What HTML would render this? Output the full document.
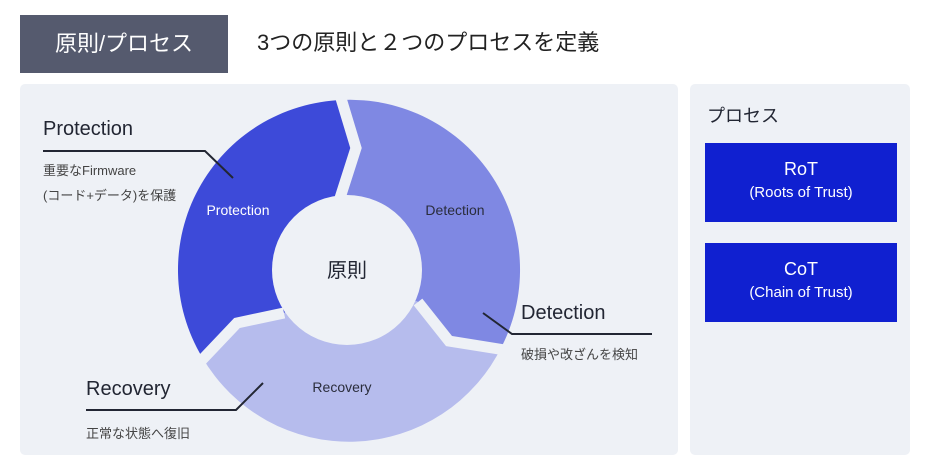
<!DOCTYPE html>
<html><head><meta charset="utf-8"><style>
body{margin:0;width:931px;height:469px;background:#fff;position:relative;overflow:hidden;font-family:"Liberation Sans","Noto Sans CJK JP",sans-serif;}
.a{position:absolute;white-space:nowrap;}
</style></head><body>
<div class="a" style="left:20px;top:15px;width:208px;height:58px;background:#555a6e;color:#fff;font-size:22px;line-height:58px;text-align:center;">原則/プロセス</div>
<div class="a" style="left:257px;top:28px;font-size:22px;color:#222;line-height:30px;">3つの原則と２つのプロセスを定義</div>
<div class="a" style="left:20px;top:84px;width:658px;height:371px;background:#eef1f6;border-radius:5px;"></div>
<div class="a" style="left:690px;top:84px;width:220px;height:371px;background:#eef1f6;border-radius:5px;"></div>
<svg class="a" style="left:0;top:0" width="931" height="469">
<g>
<path d="M347 270 L342 195 L357 148 L342 100 A170 170 0 0 0 202 357 L237 323 L284 313 Z" fill="#3d4ad9"/>
<path d="M347 270 L342 195 L357 148 L342 100 A170 170 0 0 1 502 346 L449 341 L418 302 Z" fill="#7f88e3"/>
<path d="M347 270 L418 302 L449 341 L502 346 A170 170 0 0 1 202 357 L237 323 L284 313 Z" fill="#b6bced"/>
<polyline points="340,95 356,148 340,198" fill="none" stroke="#eef1f6" stroke-width="11"/>
<polyline points="505,350 449,341 418,302" fill="none" stroke="#eef1f6" stroke-width="11"/>
<polyline points="200,362 237,323 284,313" fill="none" stroke="#eef1f6" stroke-width="11"/>
<circle cx="347" cy="270" r="75" fill="#eef1f6"/>
</g>
<g stroke="#222633" stroke-width="2" fill="none">
<polyline points="43,151 205,151 233,178"/>
<polyline points="483,313 512,334 652,334"/>
<polyline points="86,410 236,410 263,383"/>
</g>
</svg>
<div class="a" style="left:43px;top:118px;font-size:20px;color:#222633;">Protection</div>
<div class="a" style="left:43px;top:160px;font-size:13px;color:#444;">重要なFirmware</div>
<div class="a" style="left:43px;top:185px;font-size:13px;color:#444;">(コード+データ)を保護</div>
<div class="a" style="left:521px;top:302px;font-size:20px;color:#222633;">Detection</div>
<div class="a" style="left:521px;top:344px;font-size:13px;color:#444;">破損や改ざんを検知</div>
<div class="a" style="left:86px;top:378px;font-size:20px;color:#222633;">Recovery</div>
<div class="a" style="left:86px;top:423px;font-size:13px;color:#444;">正常な状態へ復旧</div>
<div class="a" style="left:188px;top:202px;width:100px;text-align:center;font-size:14px;color:#fff;">Protection</div>
<div class="a" style="left:405px;top:202px;width:100px;text-align:center;font-size:14px;color:#2a2d3c;">Detection</div>
<div class="a" style="left:292px;top:379px;width:100px;text-align:center;font-size:14px;color:#2a2d3c;">Recovery</div>
<div class="a" style="left:297px;top:254px;width:100px;text-align:center;font-size:20px;color:#222633;">原則</div>
<div class="a" style="left:707px;top:102px;font-size:18px;color:#222633;">プロセス</div>
<div class="a" style="left:705px;top:143px;width:192px;height:79px;background:#1020d0;color:#fff;text-align:center;">
<div style="font-size:18px;margin-top:16px;">RoT</div><div style="font-size:15px;margin-top:4px;">(Roots of Trust)</div></div>
<div class="a" style="left:705px;top:243px;width:192px;height:79px;background:#1020d0;color:#fff;text-align:center;">
<div style="font-size:18px;margin-top:16px;">CoT</div><div style="font-size:15px;margin-top:4px;">(Chain of Trust)</div></div>
</body></html>
